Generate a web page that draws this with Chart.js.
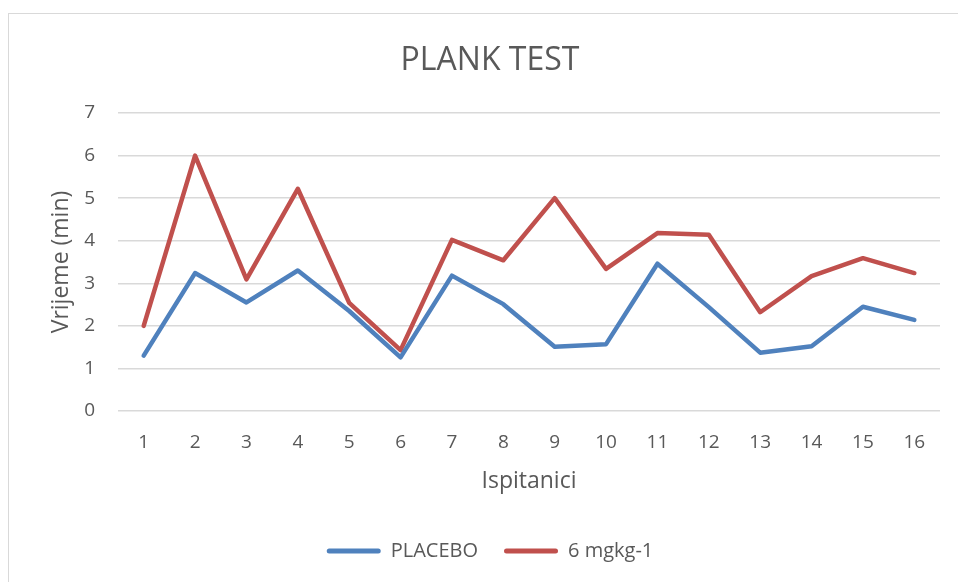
<!DOCTYPE html>
<html>
<head>
<meta charset="utf-8">
<script src="https://cdn.jsdelivr.net/npm/chart.js@4/dist/chart.umd.min.js"></script>
<style>
  html, body { margin: 0; padding: 0; background: #ffffff; overflow: hidden; }
  #frame { position: absolute; left: 8px; top: 13px; width: 1000px; height: 1000px; border: 1.5px solid #d9d9d9; box-sizing: border-box; }
  #wrap { position: absolute; left: 0; top: 0; width: 958px; height: 582px; }
</style>
</head>
<body>
<div id="frame"></div>
<div id="wrap"><canvas id="c" width="958" height="582"></canvas></div>
<script>
const categories = ['1','2','3','4','5','6','7','8','9','10','11','12','13','14','15','16'];
const placebo = [1.30, 3.24, 2.55, 3.30, 2.35, 1.26, 3.18, 2.51, 1.51, 1.57, 3.46, 2.44, 1.37, 1.52, 2.45, 2.14];
const dose6 = [2.00, 6.00, 3.09, 5.22, 2.54, 1.43, 4.02, 3.54, 5.00, 3.34, 4.18, 4.14, 2.32, 3.17, 3.59, 3.24];
const yTicks = [0, 1, 2, 3, 4, 5, 6, 7];
const seriesNames = ['PLACEBO', '6 mgkg-1'];
const titleText = 'PLANK TEST';
const xTitle = 'Ispitanici';
const yTitle = 'Vrijeme (min)';

const FONT = "'Open Sans', 'Liberation Sans', sans-serif";
const TXT = '#595959';
const GRID = '#d9d9d9';

new Chart(document.getElementById('c'), {
  type: 'line',
  data: {
    labels: categories,
    datasets: [
      { label: seriesNames[0], data: placebo, borderColor: '#4f81bd', backgroundColor: '#4f81bd',
        borderWidth: 4.5, pointRadius: 0, tension: 0, borderCapStyle: 'round', borderJoinStyle: 'round' },
      { label: seriesNames[1], data: dose6, borderColor: '#c0504d', backgroundColor: '#c0504d',
        borderWidth: 4.5, pointRadius: 0, tension: 0, borderCapStyle: 'round', borderJoinStyle: 'round' }
    ]
  },
  options: {
    responsive: false,
    animation: false,
    devicePixelRatio: 1,
    layout: { padding: { left: 40, right: 18, top: 0, bottom: 11 } },
    plugins: {
      title: {
        display: true, text: titleText, color: TXT,
        font: { family: FONT, size: 32, weight: 'normal' },
        padding: { top: 42, bottom: 32.6 }
      },
      legend: {
        position: 'bottom',
        labels: {
          color: TXT, font: { family: FONT, size: 20 },
          boxWidth: 54, boxHeight: 5, useBorderRadius: true, borderRadius: 2.5,
          padding: 26,
          generateLabels: (chart) => chart.data.datasets.map((ds, i) => ({
            text: ds.label, fillStyle: ds.borderColor, strokeStyle: ds.borderColor,
            lineWidth: 0, hidden: false, datasetIndex: i, fontColor: TXT, borderRadius: 2.5
          }))
        }
      },
      tooltip: { enabled: false }
    },
    scales: {
      x: {
        offset: true,
        grid: { display: false, drawTicks: false },
        border: { display: false },
        ticks: { color: TXT, font: { family: FONT, size: 19 }, padding: 20, maxRotation: 0 },
        title: { display: true, text: xTitle, color: TXT, font: { family: FONT, size: 23 }, padding: { top: 0, bottom: 20 } },
        afterFit: (axis) => { axis.height = 104; }
      },
      y: {
        min: 0, max: 7,
        afterBuildTicks: (axis) => { axis.ticks = yTicks.map(v => ({ value: v })); },
        grid: { color: GRID, lineWidth: 1.5, drawTicks: false },
        border: { display: false },
        ticks: { color: TXT, font: { family: FONT, size: 19 }, padding: 23 },
        title: { display: true, text: yTitle, color: TXT, font: { family: FONT, size: 23 }, padding: { top: 8, bottom: 0 } },
        afterFit: (axis) => { axis.width = 78; }
      }
    }
  }
});
</script>
</body>
</html>
